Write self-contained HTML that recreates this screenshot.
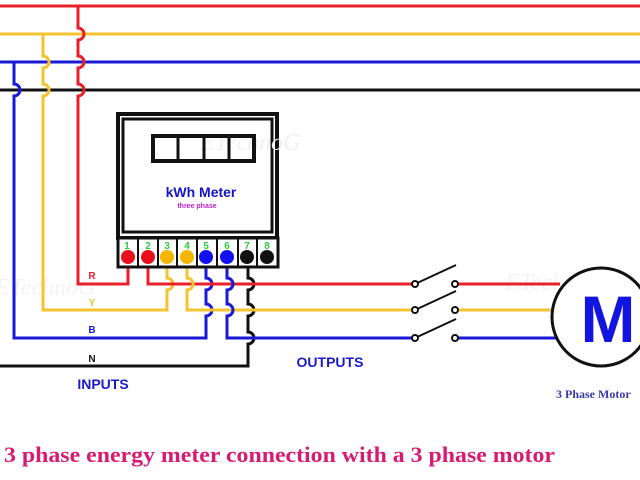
<!DOCTYPE html>
<html><head><style>body{margin:0;background:#fff}svg{display:block}</style></head><body>
<svg width="640" height="480" viewBox="0 0 640 480" xmlns="http://www.w3.org/2000/svg" font-family="Liberation Sans, sans-serif">
<rect width="640" height="480" fill="#fff"/>
<g font-family="Liberation Serif, serif" font-style="italic" font-size="24" fill="#f3f3f3"><text x="200" y="150">ETechnoG</text><text x="-5" y="295">ETechnoG</text><text x="505" y="290">ETechnoG</text></g>
<g fill="none" stroke-width="3">
<line x1="0" y1="6" x2="640" y2="6" stroke="#e8202a"/>
<line x1="0" y1="34" x2="640" y2="34" stroke="#f4c430"/>
<line x1="0" y1="62" x2="640" y2="62" stroke="#1a1ad6"/>
<line x1="0" y1="90" x2="640" y2="90" stroke="#111"/>
<path d="M78 6 V28 a6 6 0 0 1 0 12 V56 a6 6 0 0 1 0 12 V84 a6 6 0 0 1 0 12 V284 H128 V262" stroke="#e8202a"/>
<path d="M43 34 V56 a6 6 0 0 1 0 12 V84 a6 6 0 0 1 0 12 V310 H167 V290 a6 6 0 0 0 0 -12 V262" stroke="#f4c430"/>
<path d="M14 62 V84 a6 6 0 0 1 0 12 V338 H206 V316 a6 6 0 0 0 0 -12 V290 a6 6 0 0 0 0 -12 V262" stroke="#1a1ad6"/>
<path d="M0 366 H248 V344 a6 6 0 0 0 0 -12 V316 a6 6 0 0 0 0 -12 V290 a6 6 0 0 0 0 -12 V262" stroke="#111"/>
<path d="M148 262 V284 H415" stroke="#e8202a"/>
<path d="M187 262 V278 a6 6 0 0 1 0 12 V310 H415" stroke="#f4c430"/>
<path d="M227 262 V278 a6 6 0 0 1 0 12 V304 a6 6 0 0 1 0 12 V338 H415" stroke="#1a1ad6"/>
<line x1="455" y1="284" x2="560" y2="284" stroke="#e8202a"/>
<line x1="455" y1="310" x2="552" y2="310" stroke="#f4c430"/>
<line x1="455" y1="338" x2="556" y2="338" stroke="#1a1ad6"/>
</g>
<g stroke="#111" stroke-width="2" fill="#fff">
<line x1="415" y1="284" x2="456" y2="265"/>
<line x1="415" y1="310" x2="456" y2="291"/>
<line x1="415" y1="338" x2="456" y2="319"/>
<circle cx="415" cy="284" r="3"/><circle cx="455" cy="284" r="3"/>
<circle cx="415" cy="310" r="3"/><circle cx="455" cy="310" r="3"/>
<circle cx="415" cy="338" r="3"/><circle cx="455" cy="338" r="3"/>
</g>
<circle cx="601" cy="317" r="49" fill="#fff" stroke="#111" stroke-width="3"/>
<text x="608" y="342" font-size="66" font-weight="bold" fill="#1414e0" text-anchor="middle">M</text>
<rect x="118" y="114" width="159" height="124" fill="#fff" stroke="#111" stroke-width="4"/>
<rect x="123" y="119" width="149" height="113" fill="#fff" stroke="#111" stroke-width="3"/>
<text x="200" y="150" font-family="Liberation Serif, serif" font-style="italic" font-size="24" fill="#f0f0f0">ETechnoG</text>
<rect x="153" y="136" width="101" height="25" fill="none" stroke="#111" stroke-width="4"/>
<g stroke="#111" stroke-width="3"><line x1="178" y1="136" x2="178" y2="161"/><line x1="204" y1="136" x2="204" y2="161"/><line x1="229" y1="136" x2="229" y2="161"/></g>
<text x="201" y="197" font-size="14" font-weight="bold" fill="#1414c8" text-anchor="middle">kWh Meter</text>
<text x="197" y="208" font-size="7" font-weight="bold" fill="#c020d0" text-anchor="middle">three phase</text>
<rect x="118" y="238" width="160" height="29" fill="#fff" stroke="#111" stroke-width="3"/>
<g stroke="#111" stroke-width="2"><line x1="138" y1="238" x2="138" y2="267"/><line x1="158" y1="238" x2="158" y2="267"/><line x1="177" y1="238" x2="177" y2="267"/><line x1="197" y1="238" x2="197" y2="267"/><line x1="217" y1="238" x2="217" y2="267"/><line x1="238" y1="238" x2="238" y2="267"/><line x1="257" y1="238" x2="257" y2="267"/></g>
<g font-size="10" font-weight="bold" fill="#2ecc40" text-anchor="middle">
<text x="127" y="249">1</text><text x="148" y="249">2</text><text x="167" y="249">3</text><text x="187" y="249">4</text><text x="206" y="249">5</text><text x="227" y="249">6</text><text x="247" y="249">7</text><text x="267" y="249">8</text></g>
<g><circle cx="128" cy="257" r="7" fill="#e8101a"/><circle cx="148" cy="257" r="7" fill="#e8101a"/><circle cx="167" cy="257" r="7" fill="#f4b400"/><circle cx="187" cy="257" r="7" fill="#f4b400"/><circle cx="206" cy="257" r="7" fill="#1010f0"/><circle cx="227" cy="257" r="7" fill="#1010f0"/><circle cx="247" cy="257" r="7" fill="#111"/><circle cx="267" cy="257" r="7" fill="#111"/></g>
<g font-size="10" font-weight="bold" text-anchor="middle">
<text x="92" y="279" fill="#e8202a">R</text><text x="92" y="306" fill="#e8c030">Y</text><text x="92" y="333" fill="#1a1ad6">B</text><text x="92" y="362" fill="#111">N</text></g>
<text x="103" y="389" font-size="14" font-weight="bold" fill="#1a1ac8" text-anchor="middle">INPUTS</text>
<text x="330" y="367" font-size="14" font-weight="bold" fill="#1a1ac8" text-anchor="middle">OUTPUTS</text>
<text x="556" y="398" font-size="12" font-weight="bold" fill="#3a3ab0" font-family="Liberation Serif, serif">3 Phase Motor</text>
<text x="4" y="462" font-size="22" font-weight="bold" fill="#d81b72" font-family="Liberation Serif, serif" textLength="551" lengthAdjust="spacingAndGlyphs">3 phase energy meter connection with a 3 phase motor</text>
</svg>
</body></html>
